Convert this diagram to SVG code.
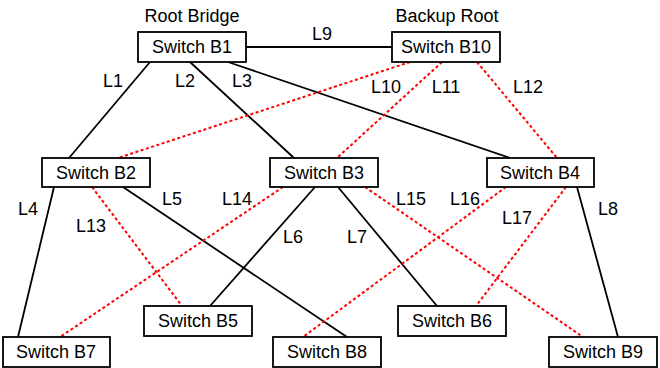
<svg xmlns="http://www.w3.org/2000/svg" width="660" height="368" viewBox="0 0 660 368">
  <style>
    .box { fill: #ffffff; stroke: #000000; stroke-width: 1.8; }
    .name { font-family: "Liberation Sans", Arial, sans-serif; font-size: 18px; fill: #000000; text-anchor: middle; }
    .lbl { font-family: "Liberation Sans", Arial, sans-serif; font-size: 18px; fill: #000000; text-anchor: middle; }
    .active { stroke: #000000; stroke-width: 1.8; fill: none; }
    .blocked { stroke: #ff0000; stroke-width: 2; stroke-dasharray: 3 2.5; fill: none; }
  </style>

  <!-- links: solid = forwarding, red dotted = blocked -->
  <g id="connectors">
    <line class="active" x1="246" y1="47" x2="392" y2="47"/>
    <line class="active" x1="150" y1="62" x2="69" y2="158"/>
    <line class="active" x1="190" y1="62" x2="294" y2="158"/>
    <line class="active" x1="228" y1="62" x2="510" y2="158"/>
    <line class="active" x1="54" y1="187" x2="18" y2="337"/>
    <line class="active" x1="123" y1="187" x2="347" y2="337"/>
    <line class="active" x1="315" y1="187" x2="210" y2="306"/>
    <line class="active" x1="338" y1="187" x2="437" y2="306"/>
    <line class="active" x1="577" y1="187" x2="618" y2="337"/>

    <line class="blocked" x1="410" y1="62" x2="118" y2="158"/>
    <line class="blocked" x1="442" y1="62" x2="337" y2="158"/>
    <line class="blocked" x1="477" y1="62" x2="557" y2="158"/>
    <line class="blocked" x1="92" y1="187" x2="182" y2="306"/>
    <line class="blocked" x1="283" y1="187" x2="60" y2="337"/>
    <line class="blocked" x1="365" y1="187" x2="583" y2="337"/>
    <line class="blocked" x1="506" y1="187" x2="303" y2="337"/>
    <line class="blocked" x1="566" y1="187" x2="476" y2="306"/>
  </g>

  <!-- link labels -->
  <g id="link-labels">
    <text class="lbl" x="322" y="40">L9</text>
    <text class="lbl" x="113" y="87">L1</text>
    <text class="lbl" x="185" y="87">L2</text>
    <text class="lbl" x="242" y="87">L3</text>
    <text class="lbl" x="386" y="93">L10</text>
    <text class="lbl" x="446" y="93">L11</text>
    <text class="lbl" x="528" y="93">L12</text>
    <text class="lbl" x="28" y="215">L4</text>
    <text class="lbl" x="172" y="205">L5</text>
    <text class="lbl" x="237" y="205">L14</text>
    <text class="lbl" x="91" y="232">L13</text>
    <text class="lbl" x="293" y="243">L6</text>
    <text class="lbl" x="357" y="243">L7</text>
    <text class="lbl" x="411" y="205">L15</text>
    <text class="lbl" x="465" y="205">L16</text>
    <text class="lbl" x="517" y="224">L17</text>
    <text class="lbl" x="608" y="215">L8</text>
  </g>

  <!-- switches -->
  <g id="b1">
    <text class="name" x="192" y="22">Root Bridge</text>
    <rect class="box" x="138" y="32" width="108" height="30"/>
    <text class="name" x="192" y="53">Switch B1</text>
  </g>
  <g id="b10">
    <text class="name" x="447" y="22">Backup Root</text>
    <rect class="box" x="392" y="32" width="108" height="30"/>
    <text class="name" x="446" y="53">Switch B10</text>
  </g>
  <g id="b2">
    <rect class="box" x="42" y="158" width="108" height="29"/>
    <text class="name" x="96" y="179">Switch B2</text>
  </g>
  <g id="b3">
    <rect class="box" x="270" y="158" width="108" height="29"/>
    <text class="name" x="324" y="179">Switch B3</text>
  </g>
  <g id="b4">
    <rect class="box" x="487" y="158" width="107" height="29"/>
    <text class="name" x="540" y="179">Switch B4</text>
  </g>
  <g id="b5">
    <rect class="box" x="144" y="306" width="108" height="30"/>
    <text class="name" x="198" y="327">Switch B5</text>
  </g>
  <g id="b6">
    <rect class="box" x="398" y="306" width="108" height="30"/>
    <text class="name" x="452" y="327">Switch B6</text>
  </g>
  <g id="b7">
    <rect class="box" x="3" y="337" width="107" height="30"/>
    <text class="name" x="56" y="358">Switch B7</text>
  </g>
  <g id="b8">
    <rect class="box" x="273" y="337" width="108" height="30"/>
    <text class="name" x="327" y="358">Switch B8</text>
  </g>
  <g id="b9">
    <rect class="box" x="549" y="337" width="108" height="30"/>
    <text class="name" x="603" y="358">Switch B9</text>
  </g>
</svg>
